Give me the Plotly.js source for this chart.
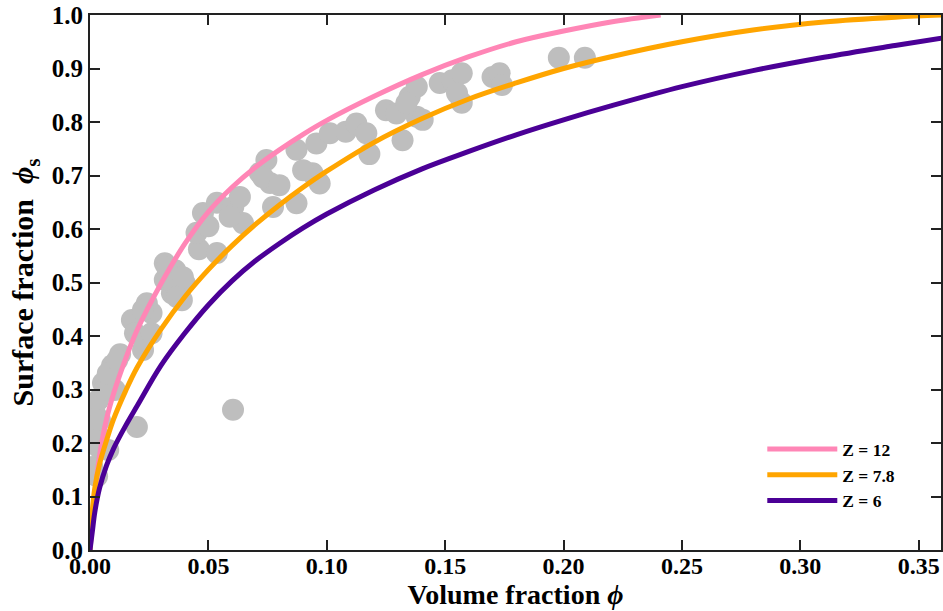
<!DOCTYPE html>
<html>
<head>
<meta charset="utf-8">
<script src="https://cdn.plot.ly/plotly-3.0.1.min.js"></script>
<style>html,body{margin:0;padding:0;background:#fff;}#chart{width:943px;height:611px;}</style>
</head>
<body>
<div id="chart"></div>
<script>
// Experimental points: volume fraction (phi) and surface fraction (phi_s)
const expPhi = [0.001,0.0021,0.003,0.0034,0.0077,0.003,0.002,0.0034,0.0055,0.0093,0.0127,0.0105,0.0042,0.0063,0.0075,0.0115,
  0.0198,0.0604,
  0.0177,0.019,0.026,0.0224,0.024,0.026,0.0224,
  0.0316,0.0316,0.0346,0.0388,0.040,0.036,0.0325,0.035,0.0392,0.0367,
  0.046,0.045,0.0477,0.050,0.0536,0.0536,0.0605,0.0633,0.0646,0.059,0.0717,0.0745,0.0773,0.076,
  0.073,0.080,0.0872,0.0872,0.094,0.0956,0.090,0.097,0.1013,0.108,0.1125,0.1167,0.118,
  0.125,0.132,0.1294,0.135,0.138,0.138,0.1336,0.1405,0.1477,0.153,0.157,0.157,0.155,
  0.170,0.173,0.174,0.198,0.209];
const expPhiS = [0.155,0.140,0.138,0.193,0.187,0.219,0.256,0.280,0.312,0.345,0.366,0.299,0.243,0.300,0.330,0.355,
  0.230,0.262,
  0.430,0.405,0.405,0.374,0.461,0.443,0.449,
  0.536,0.505,0.480,0.467,0.499,0.523,0.529,0.499,0.510,0.473,
  0.562,0.593,0.630,0.605,0.649,0.555,0.641,0.660,0.611,0.623,0.705,0.729,0.641,0.686,
  0.697,0.682,0.748,0.648,0.704,0.760,0.710,0.685,0.779,0.782,0.797,0.779,0.740,
  0.822,0.766,0.816,0.847,0.866,0.810,0.835,0.804,0.873,0.878,0.891,0.836,0.854,
  0.884,0.891,0.869,0.920,0.920];

// Model curves
const z12Phi  = [0,0.0005,0.001,0.002,0.004,0.007,0.010,0.015,0.020,0.030,0.040,0.050,0.060,0.070,0.080,0.090,0.100,0.120,0.140,0.160,0.180,0.200,0.220,0.241];
const z12PhiS = [0,0.025,0.05,0.10,0.175,0.245,0.293,0.357,0.412,0.498,0.572,0.632,0.678,0.716,0.748,0.777,0.803,0.848,0.888,0.922,0.950,0.970,0.987,1.0];

const z78Phi  = [0,0.0005,0.001,0.002,0.004,0.007,0.010,0.015,0.020,0.030,0.040,0.050,0.060,0.070,0.080,0.090,0.100,0.120,0.140,0.160,0.180,0.200,0.220,0.250,0.280,0.310,0.340,0.360];
const z78PhiS = [0,0.045,0.075,0.115,0.16,0.205,0.245,0.297,0.342,0.413,0.473,0.524,0.569,0.609,0.645,0.678,0.708,0.762,0.806,0.843,0.873,0.90,0.922,0.95,0.972,0.987,0.996,1.0];

const z6Phi  = [0,0.001,0.002,0.004,0.007,0.010,0.015,0.020,0.030,0.040,0.050,0.060,0.070,0.080,0.090,0.100,0.120,0.140,0.160,0.180,0.200,0.220,0.250,0.280,0.310,0.340,0.360];
const z6PhiS = [0,0.035,0.07,0.115,0.158,0.19,0.232,0.27,0.345,0.405,0.458,0.503,0.541,0.573,0.602,0.628,0.673,0.712,0.745,0.776,0.804,0.830,0.866,0.896,0.921,0.943,0.957];

const xTicks = [0,0.05,0.10,0.15,0.20,0.25,0.30,0.35];
const yTicks = [0,0.1,0.2,0.3,0.4,0.5,0.6,0.7,0.8,0.9,1.0];

const serif = '"Liberation Serif", "Times New Roman", serif';

const traces = [
  {x: expPhi, y: expPhiS, type: 'scatter', mode: 'markers', showlegend: false,
   marker: {size: 22, color: '#bebebe', line: {width: 0}}},
  {x: z12Phi, y: z12PhiS, type: 'scatter', mode: 'lines', name: 'Z = 12',
   line: {color: '#ff86b6', width: 5, shape: 'spline', smoothing: 1}},
  {x: z78Phi, y: z78PhiS, type: 'scatter', mode: 'lines', name: 'Z = 7.8',
   line: {color: '#ffa500', width: 5, shape: 'spline', smoothing: 1}},
  {x: z6Phi, y: z6PhiS, type: 'scatter', mode: 'lines', name: 'Z = 6',
   line: {color: '#4b0096', width: 5, shape: 'spline', smoothing: 1}}
];

const layout = {
  width: 943, height: 611,
  margin: {l: 90, r: 2, t: 15, b: 61},
  paper_bgcolor: '#fff', plot_bgcolor: '#fff',
  font: {family: serif, color: '#000'},
  showlegend: true,
  legend: {x: 0.79, y: 0.222, xanchor: 'left', yanchor: 'top', bgcolor: 'rgba(0,0,0,0)',
           font: {family: serif, size: 17.5, weight: 'bold', color: '#000'}, itemwidth: 70, tracegroupgap: 0},
  xaxis: {
    range: [0, 0.3594], tickvals: xTicks, tickformat: '.2f',
    ticks: 'inside', ticklen: 10, tickwidth: 2, tickcolor: '#222',
    showline: true, linecolor: '#222', linewidth: 2, mirror: 'ticks',
    showgrid: false, zeroline: false, ticklabelstandoff: -7,
    tickfont: {family: serif, size: 24, weight: 'bold', color: '#000'},
    title: {text: 'Volume fraction <i>ϕ</i>', standoff: 0,
            font: {family: serif, size: 28, weight: 'bold', color: '#000'}}
  },
  yaxis: {
    range: [0, 1], tickvals: yTicks, tickformat: '.1f',
    ticks: 'inside', ticklen: 10, tickwidth: 2, tickcolor: '#222',
    showline: true, linecolor: '#222', linewidth: 2, mirror: 'ticks',
    showgrid: false, zeroline: false,
    tickfont: {family: serif, size: 25, weight: 'bold', color: '#000'},
    title: {text: 'Surface fraction  <i>ϕ</i><sub>s</sub>', standoff: 9,
            font: {family: serif, size: 30, weight: 'bold', color: '#000'}}
  }
};

Plotly.newPlot('chart', traces, layout, {displayModeBar: false, staticPlot: true});
</script>
</body>
</html>
